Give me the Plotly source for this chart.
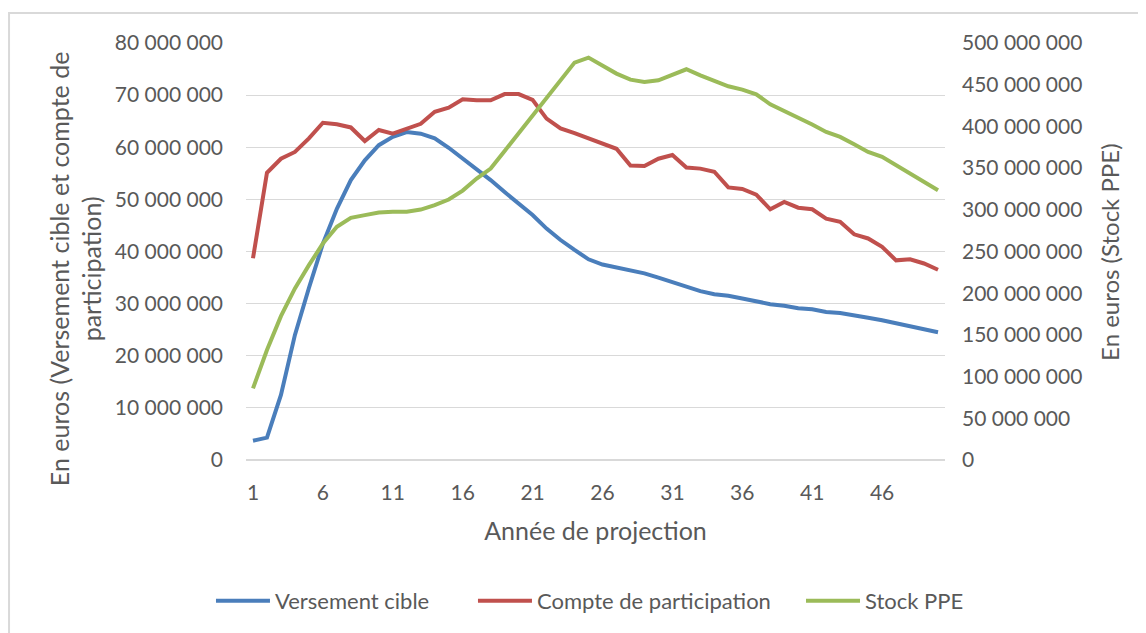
import plotly.graph_objects as go

# values, in millions of euros
annees = list(range(1, 51))

versement_cible_m = [
    3.7, 4.3, 12.5, 24.0, 33.0, 41.5, 48.2, 53.7, 57.5, 60.4,
    62.0, 62.9, 62.6, 61.7, 59.9, 57.9, 55.8, 53.7, 51.4, 49.2,
    47.0, 44.4, 42.2, 40.3, 38.5, 37.5, 36.9, 36.4, 35.8, 35.0,
    34.1, 33.4, 32.4, 31.8, 31.5, 31.0, 30.4, 29.9, 29.6, 29.1,
    28.9, 28.4, 28.2, 27.8, 27.3, 26.8, 26.2, 25.7, 25.0, 24.5,
]
compte_participation_m = [
    38.7, 55.1, 57.8, 59.1, 61.7, 64.7, 64.4, 63.8, 61.2, 63.3,
    62.6, 63.6, 64.5, 66.8, 67.6, 69.2, 69.0, 69.0, 70.2, 70.2,
    69.1, 65.5, 63.6, 62.7, 61.7, 60.7, 59.7, 56.5, 56.4, 57.8,
    58.5, 56.1, 55.9, 55.3, 52.3, 52.0, 50.9, 48.1, 49.5, 48.4,
    48.1, 46.3, 45.7, 43.3, 42.5, 40.9, 38.3, 38.5, 37.7, 36.5,
]
stock_ppe_m = [
    85.9, 131.8, 172.5, 205.7, 233.6, 259.6, 279.6, 290.4, 293.6, 296.7,
    297.6, 297.6, 300.3, 305.5, 312.3, 323.0, 337.5, 349.5, 370.6, 391.8,
    413.0, 434.1, 455.3, 476.5, 482.5, 473.3, 463.3, 456.1, 453.3, 455.3,
    462.1, 468.5, 461.3, 455.3, 448.1, 444.1, 438.5, 426.5, 418.6, 410.6,
    402.2, 393.4, 387.4, 378.6, 369.4, 363.5, 353.5, 342.7, 332.3, 323.5,
]

x_ticks = [1, 6, 11, 16, 21, 26, 31, 36, 41, 46]

FONT = "Lato"
GREY = "#595959"

fig = go.Figure()

fig.add_trace(go.Scatter(
    x=annees, y=[v * 1e6 for v in versement_cible_m],
    name="Versement cible", mode="lines",
    line=dict(color="#4A7EBB", width=4),
    legend="legend",
))
fig.add_trace(go.Scatter(
    x=annees, y=[v * 1e6 for v in compte_participation_m],
    name="Compte de participation", mode="lines",
    line=dict(color="#C0504D", width=4),
    legend="legend2",
))
fig.add_trace(go.Scatter(
    x=annees, y=[v * 1e6 for v in stock_ppe_m],
    name="Stock PPE", mode="lines",
    line=dict(color="#9BBB59", width=4),
    yaxis="y2",
    legend="legend3",
))

legend_style = dict(
    orientation="h",
    xanchor="left",
    y=-0.338, yanchor="middle",
    font=dict(size=22, color=GREY),
    itemwidth=54,
    bgcolor="rgba(0,0,0,0)",
)

fig.update_layout(
    width=1146,
    height=633,
    separators=", ",
    font=dict(family=FONT, size=21, color=GREY),
    paper_bgcolor="white",
    plot_bgcolor="white",
    margin=dict(l=238, r=209, t=35, b=181, autoexpand=False),
    xaxis=dict(
        range=[0.5, 50.5],
        tickvals=x_ticks,
        showgrid=False,
        zeroline=False,
        showline=False,
        ticks="",
        ticklabelstandoff=18,
        title=dict(text="Année de projection", standoff=19),
    ),
    yaxis=dict(
        range=[0, 80e6],
        dtick=10e6,
        tickformat=",d",
        showgrid=True,
        gridcolor="#D9D9D9",
        gridwidth=1,
        zeroline=True,
        zerolinecolor="#D9D9D9",
        showline=False,
        ticks="",
        ticklabelstandoff=22,
    ),
    yaxis2=dict(
        range=[0, 500e6],
        dtick=50e6,
        tickformat=",d",
        overlaying="y",
        side="right",
        showgrid=False,
        zeroline=False,
        showline=False,
        ticks="",
        ticklabelstandoff=16,
    ),
    legend=dict(x=-0.0501, **legend_style),
    legend2=dict(x=0.3247, **legend_style),
    legend3=dict(x=0.794, **legend_style),
    showlegend=True,
    annotations=[
        dict(
            text="En euros (Versement cible et compte de<br>participation)",
            xref="paper", yref="paper",
            x=-0.2447, y=0.46,
            xanchor="center", yanchor="middle",
            textangle=-90, showarrow=False,
            font=dict(size=25, color=GREY),
        ),
        dict(
            text="En euros (Stock PPE)",
            xref="paper", yref="paper",
            x=1.236, y=0.499,
            xanchor="center", yanchor="middle",
            textangle=-90, showarrow=False,
            font=dict(size=24, color=GREY),
        ),
    ],
    shapes=[
        dict(
            type="rect", xref="paper", yref="paper",
            x0=-0.339, y0=-2, x1=3, y1=1.072,
            line=dict(color="#D9D9D9", width=2),
            layer="below",
        ),
    ],
)

fig.write_html("out.html")
